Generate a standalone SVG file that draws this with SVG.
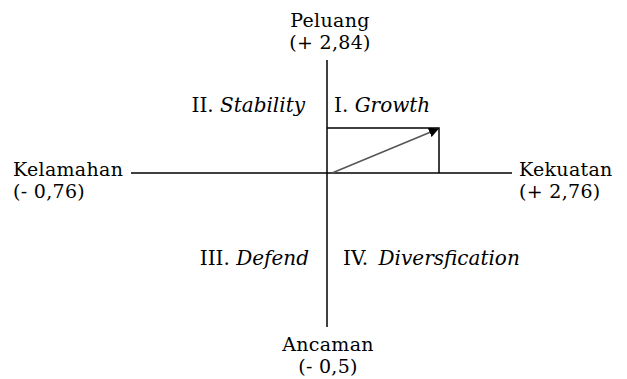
<svg xmlns="http://www.w3.org/2000/svg" width="627" height="379" viewBox="0 0 627 379">
<style>
text{font-family:"DejaVu Serif","Liberation Serif",serif;font-size:20px;fill:#000}
.t{font-size:19px;letter-spacing:0.3px}
.i{font-style:italic}
.ax{stroke:#000;stroke-width:1.5;fill:none}
.v{stroke:#555;stroke-width:1.5;fill:none}
</style>
<defs>
<marker id="ah" markerWidth="10" markerHeight="10" refX="9" refY="5" orient="auto" markerUnits="userSpaceOnUse">
<path d="M0,0 L10,5 L0,10 z" fill="#000"/>
</marker>
</defs>
<rect width="627" height="379" fill="#fff"/>
<g id="connectors">
<line class="ax" x1="327" y1="60" x2="327" y2="327"/>
<line class="ax" x1="131" y1="173" x2="512" y2="173"/>
<polyline class="ax" points="327,128 439,128 439,173"/>
<line class="v" x1="332" y1="173" x2="438" y2="129" marker-end="url(#ah)"/>
</g>
<g id="peluang"><text class="t" x="330" y="27" text-anchor="middle">Peluang</text><text class="t" x="330" y="49" text-anchor="middle">(+ 2,84)</text></g>
<g id="kelamahan"><text class="t" x="13" y="176">Kelamahan</text><text class="t" x="13" y="198">(- 0,76)</text></g>
<g id="kekuatan"><text class="t" x="519" y="176">Kekuatan</text><text class="t" x="519" y="198">(+ 2,76)</text></g>
<g id="ancaman"><text class="t" x="328" y="351" text-anchor="middle">Ancaman</text><text class="t" x="328" y="373" text-anchor="middle">(- 0,5)</text></g>
<g id="q2"><text x="305" y="112" text-anchor="end">II. <tspan class="i">Stability</tspan></text></g>
<g id="q1"><text x="334" y="112">I. <tspan class="i">Growth</tspan></text></g>
<g id="q3"><text x="309" y="265" text-anchor="end">III. <tspan class="i">Defend</tspan></text></g>
<g id="q4"><text x="343" y="265">IV. <tspan class="i" dx="4">Diversfication</tspan></text></g>
</svg>
